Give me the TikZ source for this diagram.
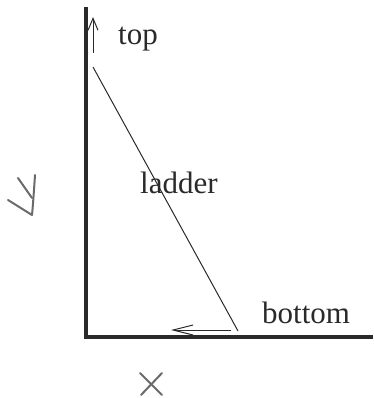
\documentclass[tikz,border=0pt]{standalone}
\usepackage{fontspec}
\setmainfont{Liberation Serif}
\usetikzlibrary{arrows.meta}
\definecolor{ink}{HTML}{2A2A2A}
\definecolor{pencil}{HTML}{6A6A6A}
\begin{document}
\begin{tikzpicture}[x=1pt,y=-1pt,
  axisline/.style={draw=ink,line width=4.5pt,line join=miter},
  thin/.style={draw=ink,line width=1pt},
  motion/.style={draw=ink,line width=1pt,-{Straight Barb[length=#1,width=10pt]}},
  lbl/.style={text=ink,inner sep=0pt,anchor=base west,font=\fontsize{31}{31}\selectfont},
  hand/.style={draw=pencil,line width=2pt,line cap=round,line join=round}]
\useasboundingbox (0,0) rectangle (373,398);
% axes
\coordinate (ytop) at (86,7);
\coordinate (origin) at (86,337);
\coordinate (xend) at (373,337);
\draw[axisline] (ytop) -- (origin) -- (xend);
% ladder
\coordinate (ltop) at (93,67);
\coordinate (lbot) at (238,331);
\draw[thin] (ltop) -- (lbot);
% motion arrows
\coordinate (upA) at (93,53);
\coordinate (upB) at (93,17);
\draw[motion=12pt] (upA) -- (upB);
\coordinate (leftA) at (231,330);
\coordinate (leftB) at (171,330);
\draw[motion=20pt] (leftA) -- (leftB);
% labels
\node[lbl] (top) at (118,45) {top};
\node[lbl] (bottom) at (262,323) {bottom};
\node[lbl] (ladder) at (140,193) {ladder};
% handwritten y
\draw[hand] (18,178) -- (32,198);
\draw[hand] (35,175) .. controls (34,190) and (33,205) .. (32,215) -- (8,200);
% handwritten x
\draw[hand] (140,373) -- (162,395);
\draw[hand] (162,373) -- (141,395);
\end{tikzpicture}
\end{document}
